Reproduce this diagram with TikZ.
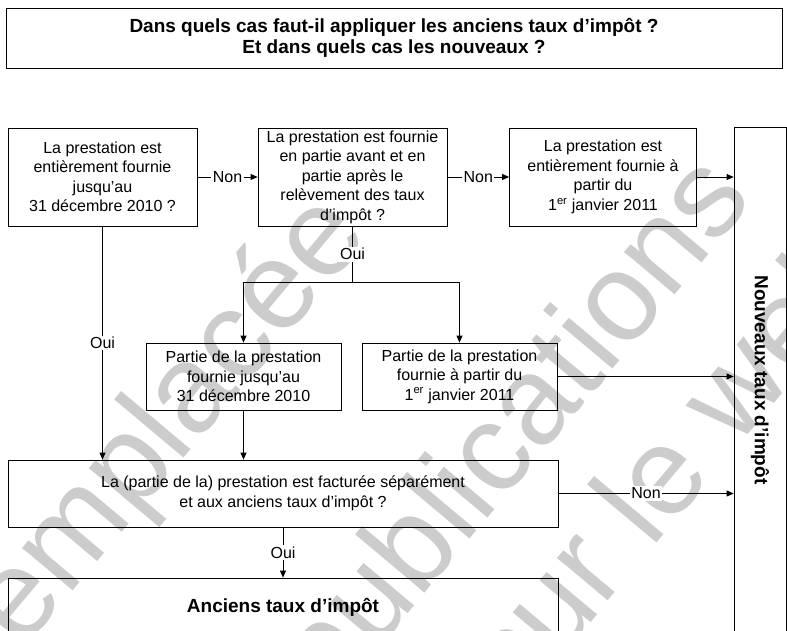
\documentclass[tikz,border=0pt]{standalone}
\usepackage{fontspec}
\setmainfont{Liberation Sans}
\usepackage{xcolor}
\usetikzlibrary{arrows.meta, positioning}

\definecolor{wmgray}{gray}{0.80}

\begin{document}
\begin{tikzpicture}[
        x=1pt, y=-1pt,
        box/.style = {draw=black, line width=0.8pt, align=center, inner sep=0pt, font=\fontsize{16}{19.5}\selectfont},
        bigbox/.style = {draw=black, line width=0.8pt, align=center, inner sep=0pt, font=\fontsize{19}{21}\selectfont\bfseries},
        lbl/.style = {fill=white, inner sep=1.5pt, font=\fontsize{16}{19.5}\selectfont},
        wmark/.style = {text=wmgray, rotate=50, inner sep=0pt, font=\fontsize{125}{125}\selectfont},
        arr/.style = {line width=0.8pt, -{Triangle[length=7pt, width=6pt]}},
        line/.style = {line width=0.8pt}
    ]

    \useasboundingbox (0,0) rectangle (787,631);
    \clip (0,0) rectangle (787,631);

    % watermark
    \node[wmark] (wm1) at (158,438) {remplacée};
    \node[wmark] (wm2) at (518,432) {publications};
    \node[wmark] (wm3) at (667,462) {sur le web};

    % title
    \node[bigbox, minimum width=776pt, minimum height=60pt] (title) at (394,38)
        {Dans quels cas faut-il appliquer les anciens taux d’impôt ?\\Et dans quels cas les nouveaux ?};

    % first row
    \node[box, minimum width=189pt, minimum height=98pt] (qa) at (102.5,177)
        {La prestation est\\entièrement fournie\\jusqu’au\\31 décembre 2010 ?};
    \node[box, minimum width=189pt, minimum height=98pt] (qb) at (352.5,177)
        {La prestation est fournie\\en partie avant et en\\partie après le\\relèvement des taux\\d’impôt ?};
    \node[box, minimum width=187pt, minimum height=98pt] (qc) at (603,177)
        {La prestation est\\entièrement fournie à\\partir du\\1\textsuperscript{er} janvier 2011};

    \node[bigbox, minimum width=52pt, minimum height=506pt] (newrate) at (760,380) {};
    \node[bigbox, draw=none, rotate=-90] (newtext) at (newrate.center) {Nouveaux taux d’impôt};

    % second row
    \node[box, minimum width=195pt, minimum height=67pt] (pd) at (243.5,376.5)
        {Partie de la prestation\\fournie jusqu’au\\31 décembre 2010};
    \node[box, minimum width=195pt, minimum height=67pt] (pe) at (459.5,376.5)
        {Partie de la prestation\\fournie à partir du\\1\textsuperscript{er} janvier 2011};

    \node[box, minimum width=550pt, minimum height=67pt] (qf) at (283,493.5)
        {La (partie de la) prestation est facturée séparément\\et aux anciens taux d’impôt ?};
    \node[bigbox, minimum width=550pt, minimum height=59pt] (old) at (283,607.5)
        {Anciens taux d’impôt};

    \coordinate (split) at (352.5,282);

    % connectors
    \draw[arr] (qa.east) -- node[lbl] (n1) {Non} (qb.west);
    \draw[arr] (qb.east) -- node[lbl] (n2) {Non} (qc.west);
    \draw[arr] (qc.east) -- (qc.east -| newrate.west);

    \draw[line] (qb.south) -- node[lbl] (o1) {Oui} (split);
    \draw[arr] (split) -| (pd.north);
    \draw[arr] (split) -| (pe.north);

    \draw[arr] (qa.south) -- node[lbl] (o2) {Oui} (qa.south |- qf.north);
    \draw[arr] (pd.south) -- (pd.south |- qf.north);
    \draw[arr] (pe.east) -- (pe.east -| newrate.west);

    \draw[arr] (qf.east) -- node[lbl] (n3) {Non} (qf.east -| newrate.west);
    \draw[arr] (qf.south) -- node[lbl] (o3) {Oui} (old.north);

\end{tikzpicture}
\end{document}
